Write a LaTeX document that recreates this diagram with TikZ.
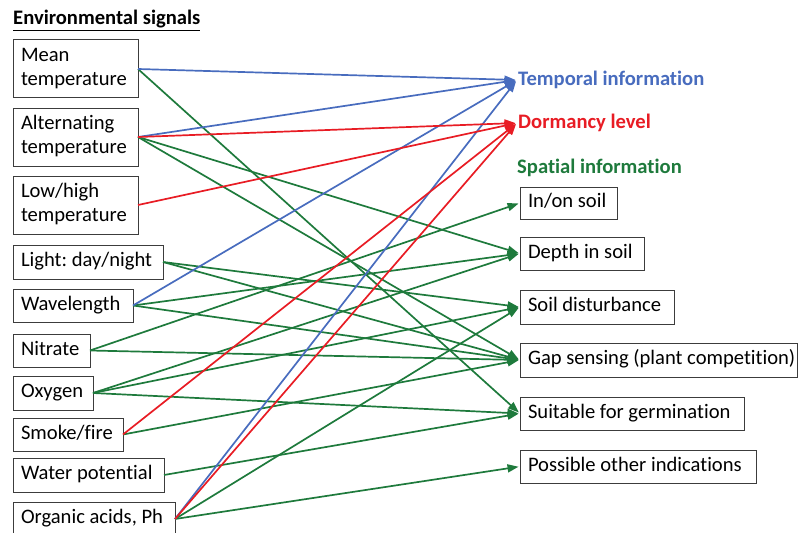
\documentclass[tikz,border=0pt]{standalone}
\usepackage{fontspec}
\setmainfont{Carlito}[Ligatures=NoCommon]
\usetikzlibrary{arrows.meta}
\definecolor{cblue}{RGB}{72,108,190}
\definecolor{cred}{RGB}{232,28,36}
\definecolor{cgreen}{RGB}{30,122,60}
\definecolor{cbord}{RGB}{60,60,60}
\newcommand{\boxtxt}[2]{\makebox[#1][l]{\strut #2}}
\frenchspacing
\tikzset{
  box/.style={draw=cbord, line width=1pt, fill=white, anchor=north west,
    font=\fontsize{20.6}{24}\selectfont, inner xsep=8pt, inner ysep=0pt, outer sep=0pt},
  twobox/.style={box, align=left, text width=109pt, minimum height=58pt},
  label/.style={anchor=west, inner sep=1pt, font=\fontsize{20.6}{24}\selectfont\bfseries},
  conn/.style={line width=1.7pt, shorten >=1.5pt, -{Triangle[length=11pt,width=8pt]}},
  bl/.style={conn, draw=cblue, fill=cblue},
  rd/.style={conn, draw=cred, fill=cred},
  gr/.style={conn, draw=cgreen, fill=cgreen}
}
\begin{document}
\begin{tikzpicture}[x=1pt,y=-1pt]
\useasboundingbox (0,0) rectangle (799,532);
% title
\node[anchor=base west, inner sep=0pt, font=\fontsize{20.6}{24}\selectfont\bfseries] (title) at (13,25) {\underline{Environmental signals}};
% left boxes
\node[twobox] (mean) at (13,40) {\strut Mean\\\strut temperature};
\node[twobox] (alt) at (13,108) {\strut Alternating\\\strut temperature};
\node[twobox] (low) at (13,176) {\strut Low/high\\\strut temperature};
\node[box, minimum height=34pt] (light) at (13,245) {\boxtxt{134pt}{Light: day/night}};
\node[box, minimum height=33pt] (wave) at (13,289) {\boxtxt{104pt}{Wavelength}};
\node[box, minimum height=33pt] (nitr) at (13,334) {\boxtxt{61pt}{Nitrate}};
\node[box, minimum height=34pt] (oxy) at (13,376) {\boxtxt{64pt}{Oxygen}};
\node[box, minimum height=33pt] (smoke) at (13,418) {\boxtxt{94pt}{Smoke/fire}};
\node[box, minimum height=34pt] (water) at (13,458) {\boxtxt{135pt}{Water potential}};
\node[box, minimum height=34pt] (org) at (13,502) {\boxtxt{146pt}{Organic acids, Ph}};
% right side
\node[label, text=cblue] (temporal) at (517,80) {Temporal information};
\node[label, text=cred] (dorm) at (517,123) {Dormancy level};
\node[label, text=cgreen] (spatial) at (516,168) {Spatial information};
\node[box, minimum height=32pt] (inon) at (520,187) {\boxtxt{81pt}{In/on soil}};
\node[box, minimum height=33pt] (depth) at (520,237) {\boxtxt{108pt}{Depth in soil}};
\node[box, minimum height=34pt] (soil) at (520,290) {\boxtxt{138pt}{Soil disturbance}};
\node[box, minimum height=34pt] (gap) at (520,343) {\boxtxt{261pt}{Gap sensing (plant competition)}};
\node[box, minimum height=33pt] (suit) at (520,397) {\boxtxt{208pt}{Suitable for germination}};
\node[box, minimum height=33pt] (poss) at (520,450) {\boxtxt{220pt}{Possible other indications}};
% green connectors
\draw[gr] (mean.east) -- (suit.west);
\draw[gr] (alt.east) -- (depth.west);
\draw[gr] (alt.east) -- (gap.west);
\draw[gr] (light.east) -- (soil.west);
\draw[gr] (light.east) -- (gap.west);
\draw[gr] (wave.east) -- (depth.west);
\draw[gr] (wave.east) -- (gap.west);
\draw[gr] (nitr.east) -- (inon.west);
\draw[gr] (nitr.east) -- (gap.west);
\draw[gr] (oxy.east) -- (depth.west);
\draw[gr] (oxy.east) -- (soil.west);
\draw[gr] (oxy.east) -- (suit.west);
\draw[gr] (smoke.east) -- (gap.west);
\draw[gr] (water.east) -- (suit.west);
\draw[gr] (org.east) -- (soil.west);
\draw[gr] (org.east) -- (poss.west);
% blue connectors
\draw[bl] (mean.east) -- (temporal.west);
\draw[bl] (alt.east) -- (temporal.west);
\draw[bl] (wave.east) -- (temporal.west);
\draw[bl] (org.east) -- (temporal.west);
% red connectors
\draw[rd] (alt.east) -- (dorm.west);
\draw[rd] (low.east) -- (dorm.west);
\draw[rd] (smoke.east) -- (dorm.west);
\draw[rd] (org.east) -- (dorm.west);
\end{tikzpicture}
\end{document}
